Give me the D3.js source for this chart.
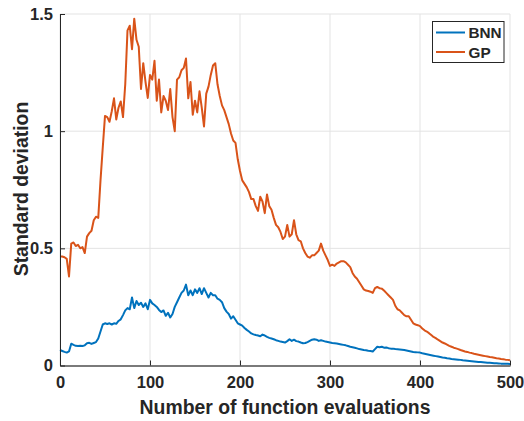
<!DOCTYPE html>
<html>
<head>
<meta charset="utf-8">
<script src="https://cdn.jsdelivr.net/npm/d3@7"></script>
<style>
  body { margin: 0; background: #fff; }
  text { font-family: "Liberation Sans", Arial, Helvetica, sans-serif; font-weight: bold; fill: #262626; }
</style>
</head>
<body>
<div class="chart"></div>
<script>
// values, one sample every 2.5 evaluations
var step = 2.5;

var bnnValues = [
  0.066, 0.062, 0.058, 0.055, 0.06, 0.093, 0.088, 0.084, 0.083, 0.084,
  0.083, 0.086, 0.095, 0.097, 0.092, 0.096, 0.10, 0.115, 0.145, 0.175,
  0.18, 0.177, 0.18, 0.175, 0.18, 0.178, 0.19, 0.197, 0.215, 0.235,
  0.245, 0.24, 0.29, 0.245, 0.275, 0.258, 0.268, 0.25, 0.265, 0.24,
  0.28, 0.265, 0.258, 0.25, 0.237, 0.228, 0.235, 0.212, 0.225, 0.205,
  0.22, 0.25, 0.27, 0.29, 0.31, 0.32, 0.345, 0.30, 0.32, 0.30,
  0.325, 0.31, 0.33, 0.305, 0.33, 0.31, 0.29, 0.31, 0.30, 0.30,
  0.285, 0.28, 0.27, 0.245, 0.23, 0.22, 0.20, 0.21, 0.195, 0.18,
  0.175, 0.17, 0.16, 0.152, 0.145, 0.137, 0.133, 0.13, 0.128, 0.125,
  0.132, 0.128, 0.122, 0.118, 0.115, 0.112, 0.108, 0.105, 0.102, 0.10,
  0.098, 0.104, 0.112, 0.105, 0.11, 0.104, 0.102, 0.098, 0.095, 0.096,
  0.10, 0.105, 0.11, 0.112, 0.11, 0.105, 0.108, 0.105, 0.102, 0.10,
  0.098, 0.096, 0.095, 0.094, 0.092, 0.09, 0.088, 0.086, 0.083, 0.08,
  0.078, 0.076, 0.073, 0.07, 0.068, 0.066, 0.065, 0.063, 0.062, 0.06,
  0.07, 0.08, 0.078, 0.08, 0.076, 0.077, 0.074, 0.072, 0.072, 0.07,
  0.069, 0.068, 0.067, 0.066, 0.064, 0.062, 0.06, 0.058, 0.057, 0.056,
  0.055, 0.052, 0.05, 0.048, 0.046, 0.044, 0.042, 0.04, 0.038, 0.036,
  0.034, 0.033, 0.031, 0.03, 0.028, 0.027, 0.026, 0.025, 0.024, 0.022,
  0.021, 0.02, 0.019, 0.018, 0.017, 0.016, 0.015, 0.015, 0.014, 0.013,
  0.012, 0.012, 0.011, 0.01, 0.01, 0.009, 0.008, 0.008, 0.007, 0.007,
  0.006
];

var gpValues = [
  0.465, 0.465, 0.462, 0.455, 0.38, 0.52, 0.525, 0.51, 0.515, 0.50,
  0.505, 0.48, 0.55, 0.565, 0.575, 0.62, 0.635, 0.63, 0.79, 0.93,
  1.065, 1.06, 1.04, 1.085, 1.14, 1.05, 1.10, 1.127, 1.06, 1.20,
  1.43, 1.45, 1.35, 1.48, 1.39, 1.36, 1.18, 1.29, 1.21, 1.142,
  1.24, 1.22, 1.30, 1.13, 1.22, 1.08, 1.15, 1.13, 1.09, 1.18,
  1.06, 1.00, 1.22, 1.23, 1.26, 1.27, 1.31, 1.14, 1.21, 1.07,
  1.13, 1.08, 1.17, 1.10, 1.02, 1.16, 1.19, 1.24, 1.28, 1.29,
  1.20, 1.15, 1.11, 1.09, 1.06, 1.03, 0.99, 0.96, 0.95, 0.88,
  0.83, 0.79, 0.775, 0.76, 0.74, 0.71, 0.71, 0.68, 0.66, 0.72,
  0.70, 0.65, 0.73, 0.68, 0.665, 0.63, 0.60, 0.59, 0.57, 0.54,
  0.55, 0.60, 0.55, 0.56, 0.62, 0.56, 0.535, 0.53, 0.50, 0.48,
  0.465, 0.46, 0.47, 0.47, 0.48, 0.49, 0.52, 0.49, 0.47, 0.45,
  0.425, 0.43, 0.425, 0.435, 0.44, 0.445, 0.445, 0.44, 0.43, 0.42,
  0.395, 0.38, 0.37, 0.355, 0.34, 0.325, 0.32, 0.318, 0.315, 0.31,
  0.33, 0.335, 0.33, 0.328, 0.32, 0.31, 0.30, 0.29, 0.28, 0.255,
  0.24, 0.235, 0.225, 0.215, 0.21, 0.21, 0.195, 0.18, 0.175, 0.172,
  0.168, 0.158, 0.15, 0.145, 0.138, 0.13, 0.122, 0.117, 0.11, 0.104,
  0.098, 0.094, 0.089, 0.084, 0.08, 0.076, 0.073, 0.07, 0.066, 0.063,
  0.06, 0.058, 0.055, 0.053, 0.05, 0.048, 0.046, 0.044, 0.042, 0.04,
  0.038, 0.036, 0.035, 0.033, 0.031, 0.03, 0.028, 0.027, 0.025, 0.024,
  0.022
];

var seriesNames = ["BNN", "GP"];
var seriesColors = ["#0072BD", "#D95319"];

var xTicks = [0, 100, 200, 300, 400, 500];
var yTicks = [0, 0.5, 1, 1.5];
var yTickLabels = ["0", "0.5", "1", "1.5"];

// set the dimensions and margins of the graph
var margin = { top: 14, right: 14, bottom: 55.5, left: 60 },
    width = 524 - margin.left - margin.right,
    height = 421 - margin.top - margin.bottom;

var svg = d3.select(".chart")
    .append("svg")
    .attr("width", 524)
    .attr("height", 421)
    .append("g")
    .attr("transform", "translate(" + margin.left + "," + margin.top + ")");

var x = d3.scaleLinear().domain([0, 500]).range([0, width]);
var y = d3.scaleLinear().domain([0, 1.5]).range([height, 0]);

// grid lines
var grid = svg.append("g").attr("class", "grid");
grid.selectAll("line.gx")
    .data(xTicks)
    .enter().append("line")
    .attr("class", "gx")
    .attr("x1", function (d) { return x(d); })
    .attr("x2", function (d) { return x(d); })
    .attr("y1", 0)
    .attr("y2", height);
grid.selectAll("line.gy")
    .data(yTicks)
    .enter().append("line")
    .attr("class", "gy")
    .attr("x1", 0)
    .attr("x2", width)
    .attr("y1", function (d) { return y(d); })
    .attr("y2", function (d) { return y(d); });
grid.selectAll("line")
    .attr("stroke", "#e3e3e3")
    .attr("stroke-width", 1);

// lines
var line = d3.line()
    .x(function (d, i) { return x(i * step); })
    .y(function (d) { return y(d); });

[bnnValues, gpValues].forEach(function (vals, k) {
    svg.append("path")
        .datum(vals)
        .attr("fill", "none")
        .attr("stroke", seriesColors[k])
        .attr("stroke-width", 2)
        .attr("stroke-linejoin", "round")
        .attr("d", line);
});

// Add X axis (ticks pointing inward, MATLAB style)
var xAxis = svg.append("g")
    .attr("transform", "translate(0," + height + ")")
    .call(d3.axisBottom(x).tickValues(xTicks).tickSize(-5).tickPadding(11).tickSizeOuter(0));
xAxis.select(".domain").attr("stroke", "#7a7a7a").attr("stroke-width", 2);
xAxis.selectAll(".tick line").attr("stroke", "#262626");
xAxis.selectAll("text").style("font-size", "16.5px");

// Add Y axis
var yAxis = svg.append("g")
    .call(d3.axisLeft(y).tickValues(yTicks).tickSize(-5).tickPadding(7).tickSizeOuter(0)
        .tickFormat(function (d, i) { return yTickLabels[i]; }));
yAxis.select(".domain").attr("stroke", "#262626");
yAxis.selectAll(".tick line").attr("stroke", "#262626");
yAxis.selectAll("text").style("font-size", "16.5px");

// axis labels
svg.append("text")
    .attr("x", width / 2)
    .attr("y", height + 48)
    .attr("text-anchor", "middle")
    .style("font-size", "19.4px")
    .text("Number of function evaluations");
svg.append("text")
    .attr("transform", "rotate(-90)")
    .attr("x", -175)
    .attr("y", -32)
    .attr("text-anchor", "middle")
    .style("font-size", "19.4px")
    .text("Standard deviation");

// legend
var legend = svg.append("g")
    .attr("transform", "translate(" + (432.5 - margin.left) + "," + (21.5 - margin.top) + ")");
legend.append("rect")
    .attr("width", 71.5)
    .attr("height", 41)
    .attr("fill", "#fff")
    .attr("stroke", "#262626")
    .attr("stroke-width", 1);
seriesNames.forEach(function (name, i) {
    var ly = 11 + i * 19.5;
    legend.append("line")
        .attr("x1", 3.5).attr("x2", 32.5)
        .attr("y1", ly).attr("y2", ly)
        .attr("stroke", seriesColors[i])
        .attr("stroke-width", 2);
    legend.append("text")
        .attr("x", 36)
        .attr("y", ly + 5.5)
        .style("font-size", "15.3px")
        .text(name);
});
</script>
</body>
</html>
